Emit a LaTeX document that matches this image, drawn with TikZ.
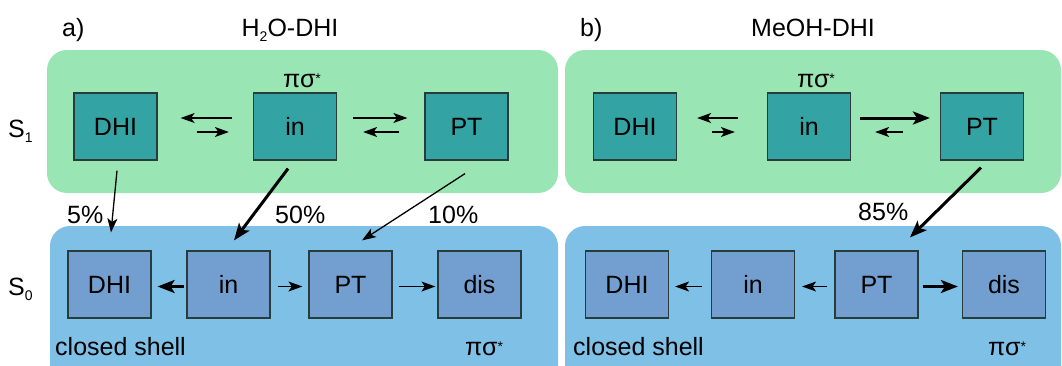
\documentclass[tikz,border=0pt]{standalone}
\usepackage{fontspec}
\setmainfont{Liberation Sans}
\usetikzlibrary{arrows.meta,calc}
\definecolor{greenbg}{RGB}{153,229,179}
\definecolor{bluebg}{RGB}{127,192,230}
\definecolor{tealbox}{RGB}{51,163,163}
\definecolor{bluebox}{RGB}{114,159,207}
\definecolor{boxline}{RGB}{40,60,60}
\newcommand{\sbs}[1]{\raisebox{-5.5pt}{\fontsize{14}{14}\selectfont #1}}
\newcommand{\sps}[1]{\raisebox{4pt}{\fontsize{14}{14}\selectfont #1}}
\tikzset{
  txt/.style={inner sep=0pt, font=\fontsize{25}{30}\selectfont},
  sbox/.style={draw=boxline, line width=1.2pt, minimum width=83pt, minimum height=67pt, inner sep=0pt, font=\fontsize{25}{30}\selectfont},
  s1box/.style={sbox, fill=tealbox},
  s0box/.style={sbox, fill=bluebox},
  thinarr/.style={line width=1.3pt, -{Stealth[length=14pt,width=10pt,inset=3.5pt]}},
  thickarr/.style={line width=3pt, -{Stealth[length=17pt,width=13pt,inset=4pt]}},
}
\begin{document}
\begin{tikzpicture}[x=1pt,y=-1pt]
\useasboundingbox (0,0) rectangle (1062,365);
\clip (0,0) rectangle (1062,365);
% backgrounds
\fill[greenbg, rounded corners=20pt] (47,50) rectangle (558,193);
\fill[greenbg, rounded corners=20pt] (565,50) rectangle (1061,193);
\fill[bluebg, rounded corners=20pt] (50,226) rectangle (558,400);
\fill[bluebg, rounded corners=20pt] (565,226) rectangle (1061,400);
% titles
\node[txt, anchor=base west] (la) at (62,36) {a)};
\node[txt, anchor=base] (ta) at (290,36) {H\sbs{2}O-DHI};
\node[txt, anchor=base west] (lb) at (580,36) {b)};
\node[txt, anchor=base] (tb) at (813,36) {MeOH-DHI};
\node[txt, anchor=base west] (s1) at (8,137) {S\sbs{1}};
\node[txt, anchor=base west] (s0) at (8,295) {S\sbs{0}};
% S1 boxes left
\node[s1box] (dhi1) at (115.5,126.5) {DHI};
\node[s1box] (in1) at (295,126.5) {in};
\node[s1box] (pt1) at (466.5,126.5) {PT};
% S1 boxes right
\node[s1box] (dhi1r) at (635,126.5) {DHI};
\node[s1box] (in1r) at (809,126.5) {in};
\node[s1box] (pt1r) at (982,126.5) {PT};
% S0 boxes left
\node[s0box] (dhi0) at (109.5,284.5) {DHI};
\node[s0box] (in0) at (228.5,284.5) {in};
\node[s0box] (pt0) at (350.5,284.5) {PT};
\node[s0box] (dis0) at (479.5,284.5) {dis};
% S0 boxes right
\node[s0box] (dhi0r) at (627,284.5) {DHI};
\node[s0box] (in0r) at (753,284.5) {in};
\node[s0box] (pt0r) at (876.5,284.5) {PT};
\node[s0box] (dis0r) at (1004,284.5) {dis};
% labels
\node[txt, anchor=base] (ps1) at (302,87) {πσ\sps{*}};
\node[txt, anchor=base] (ps1r) at (816,87) {πσ\sps{*}};
\node[txt, anchor=base west] (csl) at (55,355) {closed shell};
\node[txt, anchor=base west] (csr) at (573,355) {closed shell};
\node[txt, anchor=base west] (ps0) at (465,355) {πσ\sps{*}};
\node[txt, anchor=base west] (ps0r) at (988,355) {πσ\sps{*}};
\node[txt, anchor=base west] (p5) at (67,223) {5\%};
\node[txt, anchor=base west] (p50) at (275,223) {50\%};
\node[txt, anchor=base west] (p10) at (428,223) {10\%};
\node[txt, anchor=base west] (p85) at (858,220) {85\%};
% S1 equilibria left
\draw[thinarr, shorten <=21pt, shorten >=23pt] ([yshift=8.5pt]in1.west) -- ([yshift=8.5pt]dhi1.east);
\draw[thinarr, shorten <=39pt, shorten >=24pt] ([yshift=-5.5pt]dhi1.east) -- ([yshift=-5.5pt]in1.west);
\draw[thinarr, shorten <=16pt, shorten >=17pt] ([yshift=8.5pt]in1.east) -- ([yshift=8.5pt]pt1.west);
\draw[thinarr, shorten <=25pt, shorten >=26pt] ([yshift=-5.5pt]pt1.west) -- ([yshift=-5.5pt]in1.east);
% S1 equilibria right
\draw[thinarr, shorten <=29pt, shorten >=20pt] ([yshift=8.5pt]in1r.west) -- ([yshift=8.5pt]dhi1r.east);
\draw[thinarr, shorten <=35pt, shorten >=32pt] ([yshift=-5.5pt]dhi1r.east) -- ([yshift=-5.5pt]in1r.west);
\draw[thickarr, shorten <=9pt, shorten >=10pt] ([yshift=8.5pt]in1r.east) -- ([yshift=8.5pt]pt1r.west);
\draw[thinarr, shorten <=37pt, shorten >=24pt] ([yshift=-5.5pt]pt1r.west) -- ([yshift=-5.5pt]in1r.east);
% S1 -> S0
\draw[thinarr] ($(dhi1.south)+(1.5,10)$) -- ($(dhi0.north)+(1.5,-18)$);
\draw[thickarr] ($(in1.south)+(-7,8)$) -- ($(in0.north)+(5.5,-10)$);
\draw[thinarr] ($(pt1.south)+(-1.5,13)$) -- ($(pt0.north)+(11.5,-10)$);
\draw[thickarr] ($(pt1r.south)+(-1,7)$) -- ($(pt0r.north)+(33.5,-13)$);
% S0 left
\draw[thickarr, shorten <=2pt, shorten >=6pt] ([yshift=-2pt]in0.west) -- ([yshift=-2pt]dhi0.east);
\draw[thinarr, shorten <=7pt, shorten >=6pt] ([yshift=-2pt]in0.east) -- ([yshift=-2pt]pt0.west);
\draw[thinarr, shorten <=6pt, shorten >=2pt] ([yshift=-2pt]pt0.east) -- ([yshift=-2pt]dis0.west);
% S0 right
\draw[thinarr, shorten <=9pt, shorten >=6pt] ([yshift=-2pt]in0r.west) -- ([yshift=-2pt]dhi0r.east);
\draw[thinarr, shorten <=7pt, shorten >=7pt] ([yshift=-2pt]pt0r.west) -- ([yshift=-2pt]in0r.east);
\draw[thickarr, shorten <=4pt, shorten >=4pt] ([yshift=-2pt]pt0r.east) -- ([yshift=-2pt]dis0r.west);
\end{tikzpicture}
\end{document}
